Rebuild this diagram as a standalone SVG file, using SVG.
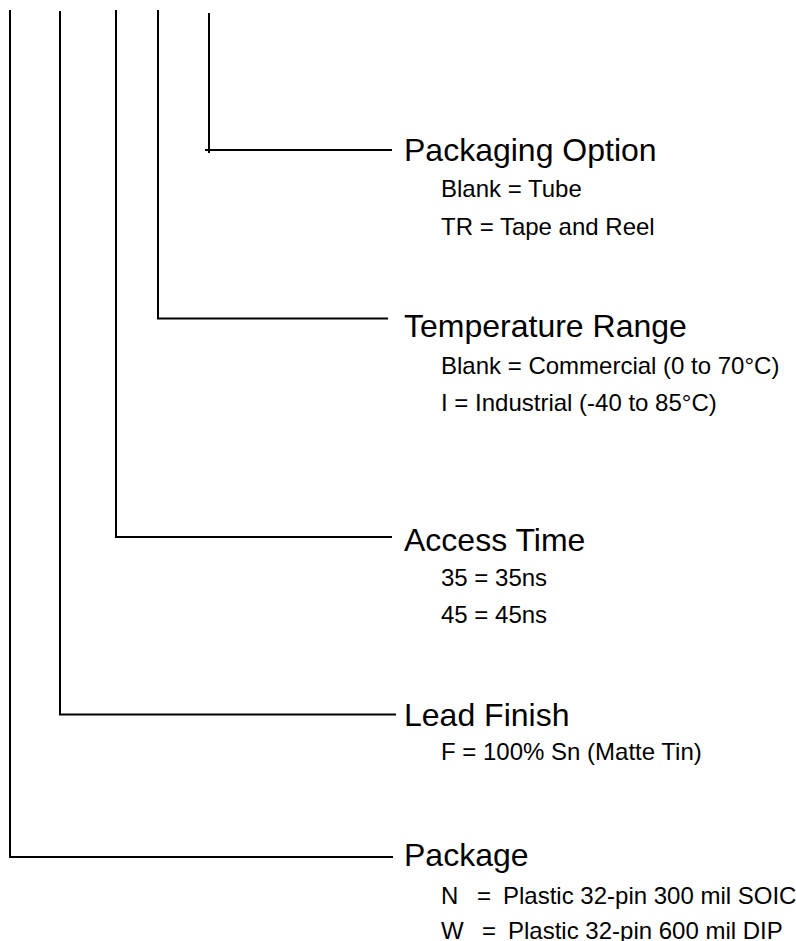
<svg xmlns="http://www.w3.org/2000/svg" width="796" height="941" viewBox="0 0 796 941">
<style>
.ln{stroke:#000;stroke-width:2;fill:none}
.t{font-family:"Liberation Sans",Arial,sans-serif;font-size:32px;fill:#000}
.s{font-family:"Liberation Sans",Arial,sans-serif;font-size:24px;fill:#000}
</style>
<rect width="796" height="941" fill="#fff"/>
<g id="connectors">
<polyline class="ln" points="10,10 10,857 393,857"/>
<polyline class="ln" points="60,11 60,714.5 396,714.5"/>
<polyline class="ln" points="116,10 116,537 392,537"/>
<polyline class="ln" points="158,10 158,318.5 388,318.5"/>
<line class="ln" x1="209" y1="13" x2="209" y2="153"/>
<line class="ln" x1="205" y1="150" x2="392" y2="150"/>
</g>
<g id="packaging-option">
<text class="t" x="404" y="161">Packaging Option</text>
<text class="s" x="441" y="197">Blank = Tube</text>
<text class="s" x="441" y="235">TR = Tape and Reel</text>
</g>
<g id="temperature-range">
<text class="t" x="404" y="337">Temperature Range</text>
<text class="s" x="441" y="374">Blank = Commercial (0 to 70°C)</text>
<text class="s" x="441" y="411">I = Industrial (-40 to 85°C)</text>
</g>
<g id="access-time">
<text class="t" x="404" y="551">Access Time</text>
<text class="s" x="441" y="586">35 = 35ns</text>
<text class="s" x="441" y="623">45 = 45ns</text>
</g>
<g id="lead-finish">
<text class="t" x="404" y="726">Lead Finish</text>
<text class="s" x="441" y="760">F = 100% Sn (Matte Tin)</text>
</g>
<g id="package">
<text class="t" x="404" y="866">Package</text>
<text class="s" y="904"><tspan x="441">N</tspan><tspan x="477">=</tspan><tspan x="503">Plastic 32-pin 300 mil SOIC</tspan></text>
<text class="s" y="939"><tspan x="441">W</tspan><tspan x="482">=</tspan><tspan x="508">Plastic 32-pin 600 mil DIP</tspan></text>
</g>
</svg>
